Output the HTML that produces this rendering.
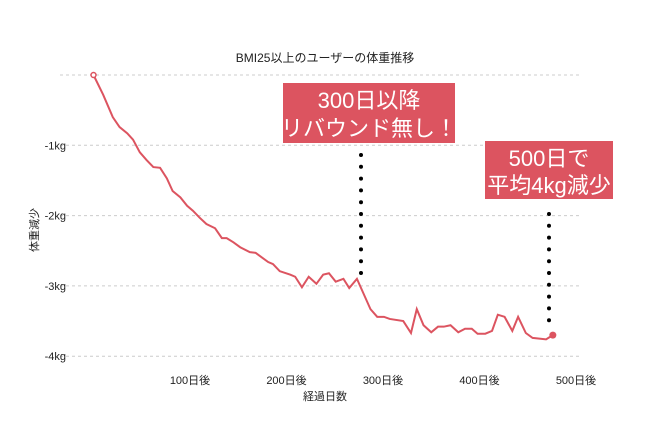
<!DOCTYPE html>
<html><head><meta charset="utf-8"><style>
body{margin:0;background:#fff;}
svg text{font-family:"Liberation Sans","Noto Sans CJK JP",sans-serif;}
</style></head><body>
<svg id="c" width="650" height="432" viewBox="0 0 650 432">
<text x="325" y="62" text-anchor="middle" font-size="12" fill="#222">BMI25以上のユーザーの体重推移</text>
<g id="grid"></g><g id="yt"></g><g id="xt"></g>
<text transform="translate(38,230) rotate(-90)" text-anchor="middle" font-size="11" fill="#222">体重減少</text>
<text x="325" y="400" text-anchor="middle" font-size="11" fill="#222">経過日数</text>
<path id="line" fill="none" stroke="#dc5460" stroke-width="2"/>
<g id="marks"></g>
<g>
<rect x="283" y="83" width="172" height="60" fill="#dc5460"/>
<text x="369" y="108" text-anchor="middle" font-size="22" fill="#fff">300日以降</text>
<text x="369" y="136" text-anchor="middle" font-size="22" fill="#fff">リバウンド無し！</text>
</g>
<line x1="361" y1="155" x2="361" y2="275" stroke="#000" stroke-width="4" stroke-linecap="round" stroke-dasharray="0 11.8"/>
<g>
<rect x="485" y="141" width="128" height="58" fill="#dc5460"/>
<text x="549" y="166" text-anchor="middle" font-size="22" fill="#fff">500日で</text>
<text x="549" y="193" text-anchor="middle" font-size="22" fill="#fff">平均4kg減少</text>
</g>
<line x1="549" y1="214" x2="549" y2="322" stroke="#000" stroke-width="4" stroke-linecap="round" stroke-dasharray="0 11.8"/>
</svg>
<script>
const days=[0,10,20,27,35,41,48,55,62,69,76,82,90,97,103,110,117,126,133,138,145,152,162,168,175,181,186,193,204,209,216,223,231,238,244,251,259,265,273,287,294,301,307,321,329,335,342,350,357,363,370,378,385,392,398,406,413,419,426,434,440,448,455,469,476];
const kg=[0,-0.28,-0.60,-0.74,-0.83,-0.92,-1.10,-1.21,-1.31,-1.32,-1.47,-1.65,-1.74,-1.86,-1.93,-2.03,-2.12,-2.18,-2.32,-2.32,-2.38,-2.45,-2.52,-2.53,-2.60,-2.66,-2.69,-2.79,-2.84,-2.87,-3.02,-2.87,-2.97,-2.84,-2.82,-2.94,-2.90,-3.03,-2.90,-3.33,-3.44,-3.44,-3.47,-3.50,-3.67,-3.33,-3.56,-3.66,-3.58,-3.58,-3.56,-3.66,-3.61,-3.61,-3.68,-3.68,-3.64,-3.41,-3.44,-3.64,-3.44,-3.67,-3.74,-3.76,-3.70];
const yTicks=[0,-1,-2,-3,-4];
const yLabels=["","-1kg","-2kg","-3kg","-4kg"];
const xTicks=[100,200,300,400,500];
const xLabels=["100日後","200日後","300日後","400日後","500日後"];
const X=d=>93.5+d*0.965, Y=v=>75-v*70.3;
const NS="http://www.w3.org/2000/svg";
function mk(t,p,a){const e=document.createElementNS(NS,t);for(const k in a)e.setAttribute(k,a[k]);document.getElementById(p).appendChild(e);return e;}
yTicks.forEach((v,i)=>{
 const g=mk('line','grid',{x1:60,x2:580,y1:Y(v),y2:Y(v),stroke:'#ccc','stroke-dasharray':'3 3'});
 
 
 const t=mk('text','yt',{x:66,y:Y(v)+4,'text-anchor':'end','font-size':11,fill:'#222'});
 t.textContent=yLabels[i];
 
 
});
xTicks.forEach((d,i)=>{
 const t=mk('text','xt',{x:X(d),y:384,'text-anchor':'middle','font-size':11,fill:'#222'});
 t.textContent=xLabels[i];
 
 
});
document.getElementById('line').setAttribute('d',days.map((d,i)=>(i?'L':'M')+X(d)+','+Y(kg[i])).join(''));
const s=mk('circle','marks',{cx:X(days[0]),cy:Y(kg[0]),r:2.5,fill:'#fff',stroke:'#dc5460','stroke-width':1.5});


const n=days.length-1;
const e=mk('circle','marks',{cx:X(days[n]),cy:Y(kg[n]),r:3.5,fill:'#dc5460'});


</script>
</body></html>
